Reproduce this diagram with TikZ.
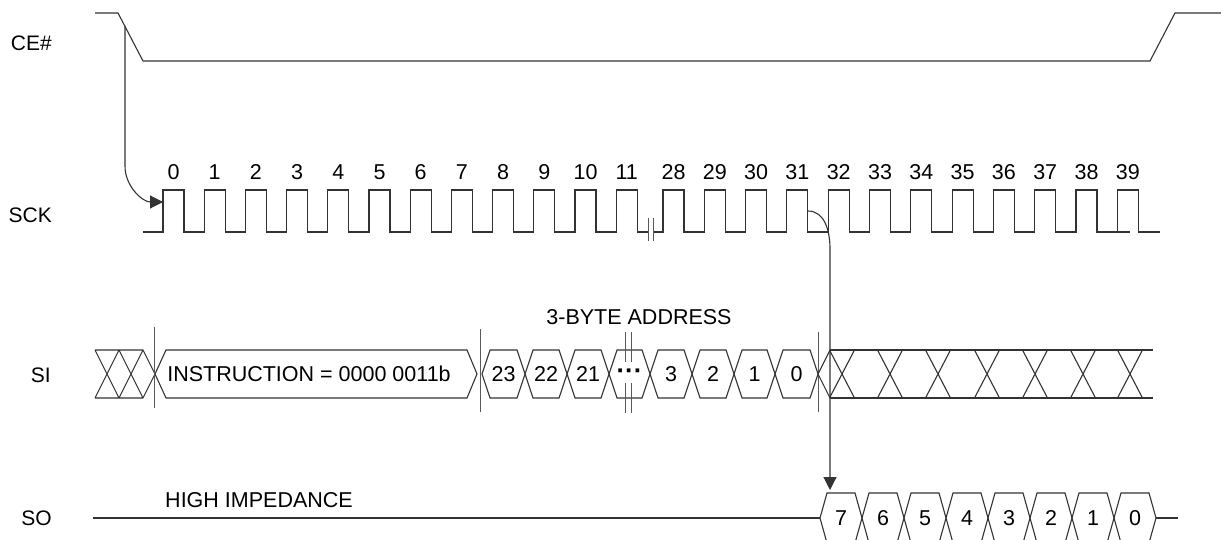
\documentclass[tikz,border=0pt]{standalone}
\usepackage{fontspec}
\setmainfont{Liberation Sans}
\usetikzlibrary{arrows.meta}

\begin{document}
\begin{tikzpicture}[x=1pt, y=-1pt,
  wave/.style={line width=1.1pt, black!80},
  brk/.style={line width=1pt, black!65},
  sig/.style={font=\fontsize{21}{25}\selectfont, anchor=east, inner sep=0pt},
  num/.style={font=\fontsize{21.5}{25}\selectfont, inner sep=0pt},
  sigarrow/.style={line width=1.1pt, black!80, -{Triangle[length=13pt, width=13pt]}}]
\useasboundingbox (0,0) rectangle (1221,540);

% signal names
\node[sig] (ce) at (52,43) {CE\#};
\node[sig] (sck) at (52,215) {SCK};
\node[sig] (si) at (51,375) {SI};
\node[sig] (so) at (52,518) {SO};

% CE#
\draw[wave] (95,13) -- (118,13) -- (143,61) -- (1150,61) -- (1175,13) -- (1221,13);
\coordinate (ceFall) at (125,26);

% SCK
\draw[wave] (143,232) foreach \i in {0,...,11} {
  -- (163+41.2*\i,232) -- (163+41.2*\i,190) -- (184+41.2*\i,190) -- (184+41.2*\i,232)} -- (648,232);
\draw[wave] (654,232) foreach \i in {0,...,11} {
  -- (663+41.3*\i,232) -- (663+41.3*\i,190) -- (684+41.3*\i,190) -- (684+41.3*\i,232)} -- (1160,232);
\draw[wave] (1117,232) -- (1130,232);
\draw[brk] (648.5,218) -- (648.5,241) (653.5,218) -- (653.5,241);
\foreach \n [count=\k from 0] in {0,...,11}
  \node[num] (clk\n) at (173.5+41.2*\k,172) {\n};
\foreach \n [count=\k from 0] in {28,...,39}
  \node[num] (clk\n) at (673.5+41.3*\k,172) {\n};
\coordinate (sck0) at (163,202);
\coordinate (sck31) at (808,211);

% SI
\draw[wave] (95,350) -- (143,350) (95,398) -- (143,398)
  (95,350) -- (119,398) (95,398) -- (119,350)
  (119,350) -- (143,398) (119,398) -- (143,350)
  (143,350) -- (155,374) -- (143,398);
\draw[wave] (155,374) -- (166,350) -- (467,350) -- (477,374) -- (467,398) -- (166,398) -- cycle;
\node[num] (instr) at (309,374) {INSTRUCTION = 0000 0011b};
\draw[brk] (154,327) -- (154,408);
\draw[brk] (480,329) -- (480,412);

\foreach \a/\b/\t [count=\k] in {482/525/23, 525/567/22, 567/609/21, 609/650/{\fontsize{26}{26}\bfseries ···},
    650/692/3, 692/734/2, 734/775/1, 775/818/0} {
  \draw[wave] (\a,374) -- (\a+8,350) -- (\b-8,350) -- (\b,374) -- (\b-8,398) -- (\a+8,398) -- cycle;
  \node[num] (addr\k) at ({(\a+\b)/2},374) {\t};
}
\draw[brk] (625,332) -- (625,362) (631,332) -- (631,362)
  (625,383) -- (625,413) (631,383) -- (631,413);
\node[num] (addrlbl) at (639,317) {3-BYTE ADDRESS};
\draw[brk] (818,332) -- (818,412);

% don't care
\draw[wave] (818,374) -- (830,350) (818,374) -- (830,398);
\draw[wave] (830,350) -- (1153,350) (830,398) -- (1153,398);
\foreach \x in {842,890,938,987,1035,1083,1130}
  \draw[wave] (\x-12.5,350) -- (\x+12.5,398) (\x-12.5,398) -- (\x+12.5,350);

% SO
\draw[wave] (93,518) -- (820,518);
\node[num] (hiz) at (259,500) {HIGH IMPEDANCE};
\foreach \t [count=\k from 0] in {7,6,5,4,3,2,1,0} {
  \draw[wave] (820+42*\k,518) -- (827+42*\k,493) -- (855+42*\k,493) -- (862+42*\k,518)
    -- (855+42*\k,543) -- (827+42*\k,543) -- cycle;
  \node[num] (out\t) at (841+42*\k,518) {\t};
}
\draw[wave] (1156,518) -- (1178,518);
\coordinate (so7) at (830,490);

% arrows
\draw[sigarrow] (ceFall) -- ++(0,140) to[out=-90, in=180] (sck0);
\draw[sigarrow] (sck31) to[out=0, in=90] ++(22,38) -- (so7);
\end{tikzpicture}
\end{document}
